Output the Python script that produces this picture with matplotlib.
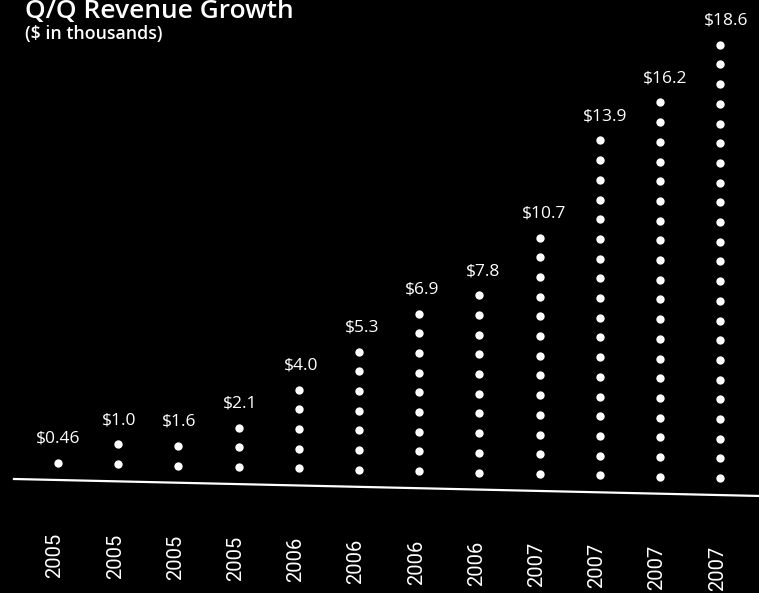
import matplotlib
matplotlib.use("Agg")
import matplotlib.pyplot as plt

# Quarterly revenue ($ in thousands)
years = ["2005", "2005", "2005", "2005", "2006", "2006", "2006", "2006",
         "2007", "2007", "2007", "2007"]
revenue = [0.46, 1.0, 1.6, 2.1, 4.0, 5.3, 6.9, 7.8, 10.7, 13.9, 16.2, 18.6]
value_labels = ["$0.46", "$1.0", "$1.6", "$2.1", "$4.0", "$5.3", "$6.9",
                "$7.8", "$10.7", "$13.9", "$16.2", "$18.6"]
# number of dots stacked in each column
dot_counts = [1, 2, 2, 3, 5, 7, 9, 10, 13, 18, 20, 23]

# styling (y axis is in pixel-like units of the dotted columns)
STEP = 19.7      # vertical gap between dots
TILT = -1.4      # the scan is slightly rotated, columns drop to the right
LABEL_GAP = 24
BASE_GAP = -17.3
YEAR_Y = -92.3

plt.rcParams['font.family'] = ['Open Sans', 'DejaVu Sans']

fig = plt.figure(figsize=(7.59, 5.93), dpi=100, facecolor='black')
ax = fig.add_axes([0, 0, 1, 1])
ax.set_facecolor('black')
ax.set_xlim(-58 / 60.2, (759 - 58) / 60.2)
ax.set_ylim(-130.3, 462.7)
ax.axis('off')

for i, n in enumerate(dot_counts):
    base = TILT * i
    ys = [base + k * STEP for k in range(n)]
    ax.plot([i] * n, ys, linestyle='none', marker='o', ms=6,
            color='white', markeredgewidth=0)
    ax.text(i + 0.1 * i / 11, ys[-1] + LABEL_GAP, value_labels[i],
            color='white', ha='center', va='center', fontsize=12.5)
    ax.text(i - 0.05, YEAR_Y - 1.2 * i, years[i], color='white',
            rotation=90, ha='center', va='center', fontsize=14.5,
            family=['Roboto', 'DejaVu Sans'])

# sloped baseline
x0, x1 = -0.75, (759 - 58) / 60.2
ax.plot([x0, x1], [BASE_GAP - 1.37 * x0, BASE_GAP - 1.37 * x1],
        color='white', lw=1.6, solid_capstyle='butt')

fig.text(25 / 759, 1 - 18 / 593, "Q/Q Revenue Growth", color='white',
         fontsize=19, fontweight='semibold', ha='left', va='baseline')
fig.text(25 / 759, 1 - 39 / 593, "($ in thousands)", color='white',
         fontsize=12.8, fontweight='semibold', ha='left', va='baseline')

fig.savefig("out.png", dpi=100, facecolor='black')
